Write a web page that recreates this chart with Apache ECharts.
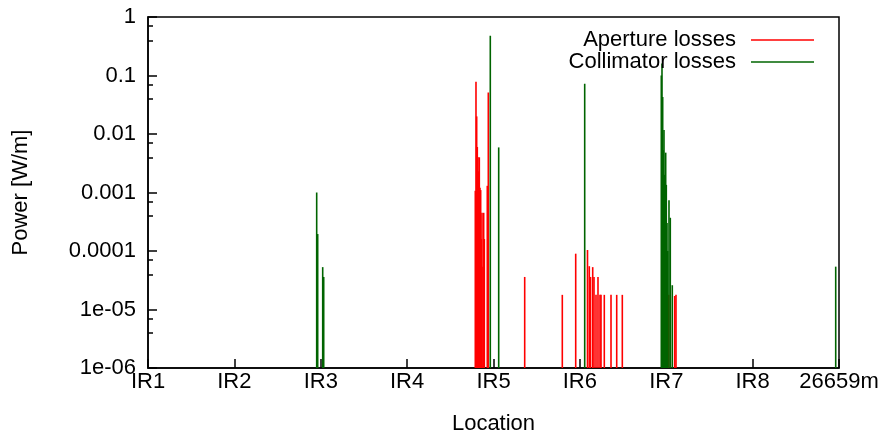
<!DOCTYPE html>
<html>
<head>
<meta charset="utf-8">
<script src="https://cdn.jsdelivr.net/npm/echarts@6/dist/echarts.min.js"></script>
<style>
  html, body { margin: 0; padding: 0; background: #fff; }
  #chart { width: 879px; height: 434px; }
</style>
</head>
<body>
<div id="chart"></div>
<script>
// ring circumference and tick names
const RING_LENGTH = 26659;
const xTickLabels = ["IR1", "IR2", "IR3", "IR4", "IR5", "IR6", "IR7", "IR8", "26659m"];
const yTickLabels = ["1e-06", "1e-05", "0.0001", "0.001", "0.01", "0.1", "1"];
const Y_MIN = 1e-6;
const Y_MAX = 1;

// aperture losses: position [m], power [W/m]
const apertureX = [
  12627, 12654, 12681, 12704, 12731, 12758, 12782, 12808, 12835, 12859,
  12886, 12924, 12951, 12975, 13090, 13129, 14533, 15984, 16501, 16956,
  17025, 17072, 17157, 17207, 17284, 17361, 17438, 17477, 17604, 17863,
  18083, 18299, 20089, 20320, 20370,
];
const apertureY = [
  0.00107, 0.078, 0.02, 0.006, 0.004, 0.0023, 0.004, 0.0012, 0.0011, 0.00016,
  0.00045, 0.000054, 0.00045, 0.00016, 0.0013, 0.051, 0.000036, 0.0000178, 0.00009, 0.000104,
  0.000055, 0.000036, 0.000053, 0.000036, 0.0000178, 0.000036, 0.0000178, 0.0000178, 0.0000178, 0.0000178,
  0.0000178, 0.0000178, 0.0000178, 0.000017, 0.0000178,
];

// collimator losses: position [m], power [W/m]
const collimatorX = [
  6508, 6547, 6740, 6779, 13206, 13530, 16848,
  19803, 19830, 19857, 19880, 19907, 19934, 19973, 19996, 20023, 20050,
  20100, 20150, 20227, 26532,
];
const collimatorY = [
  0.001, 0.000195, 0.000053, 0.000036, 0.48, 0.0059, 0.072,
  0.1, 0.16, 0.043, 0.0053, 0.0117, 0.002, 0.0048, 0.00135, 0.0003, 0.0001,
  0.00074, 0.00037, 0.000026, 0.000054,
];

const FONT = "'Liberation Sans', Arial, Helvetica, sans-serif";
const FONT_SIZE = 22;
const RED = "#ff0000";
const GREEN = "#006400";

function zip(xs, ys) {
  return xs.map((x, i) => [x, ys[i]]);
}

// gnuplot-style impulses: vertical line from the bottom of the axis up to the value
function impulse(params, api) {
  const top = api.coord([api.value(0), api.value(1)]);
  const base = api.coord([api.value(0), Y_MIN]);
  return {
    type: "line",
    shape: { x1: top[0], y1: top[1], x2: base[0], y2: base[1] },
    style: { stroke: api.visual("color"), lineWidth: 1.6 },
  };
}

const step = RING_LENGTH / (xTickLabels.length - 1);

const chart = echarts.init(document.getElementById("chart"));
chart.setOption({
  animation: false,
  backgroundColor: "#fff",
  textStyle: { fontFamily: FONT },
  grid: {
    left: 148, right: 40, top: 17, bottom: 66,
    outerBoundsMode: "none",
    containLabel: false,
    show: true, borderColor: "#000", borderWidth: 1.5,
  },
  legend: {
    orient: "vertical",
    right: 60,
    top: 24,
    align: "right",
    itemWidth: 63,
    itemHeight: 1.5,
    itemGap: 0,
    textStyle: { fontSize: FONT_SIZE, color: "#000", fontFamily: FONT, padding: [0, 10, 0, 0] },
    data: [
      { name: "Aperture losses", icon: "rect" },
      { name: "Collimator losses", icon: "rect" },
    ],
  },
  xAxis: {
    type: "value",
    min: 0,
    max: RING_LENGTH,
    interval: step,
    name: "Location",
    nameLocation: "middle",
    nameGap: 45,
    nameTextStyle: { fontSize: FONT_SIZE, color: "#000", fontFamily: FONT },
    axisLine: { lineStyle: { color: "#000", width: 1.5 } },
    axisTick: { inside: true, length: 9, lineStyle: { color: "#000", width: 1.5 } },
    axisLabel: {
      fontSize: FONT_SIZE, color: "#000", margin: 3,
      formatter: (v) => xTickLabels[Math.round(v / step)],
    },
    splitLine: { show: false },
  },
  yAxis: {
    type: "log",
    logBase: 10,
    min: Y_MIN,
    max: Y_MAX,
    name: "Power [W/m]",
    nameLocation: "middle",
    nameGap: 116,
    nameRotate: 90,
    nameTextStyle: { fontSize: FONT_SIZE, color: "#000", fontFamily: FONT },
    axisLine: { lineStyle: { color: "#000", width: 1.5 } },
    axisTick: { inside: true, length: 9, lineStyle: { color: "#000", width: 1.5 } },
    minorTick: { show: true, splitNumber: 3, length: 5, lineStyle: { color: "#000", width: 1.5 } },
    axisLabel: {
      fontSize: FONT_SIZE, color: "#000", margin: 12,
      formatter: (v) => yTickLabels[Math.round(Math.log10(v)) + 6],
    },
    splitLine: { show: false },
  },
  series: [
    {
      name: "Aperture losses",
      type: "custom",
      renderItem: impulse,
      itemStyle: { color: RED },
      encode: { x: 0, y: 1 },
      clip: true,
      data: zip(apertureX, apertureY),
    },
    {
      name: "Collimator losses",
      type: "custom",
      renderItem: impulse,
      itemStyle: { color: GREEN },
      encode: { x: 0, y: 1 },
      clip: true,
      data: zip(collimatorX, collimatorY),
    },
  ],
});
</script>
</body>
</html>
